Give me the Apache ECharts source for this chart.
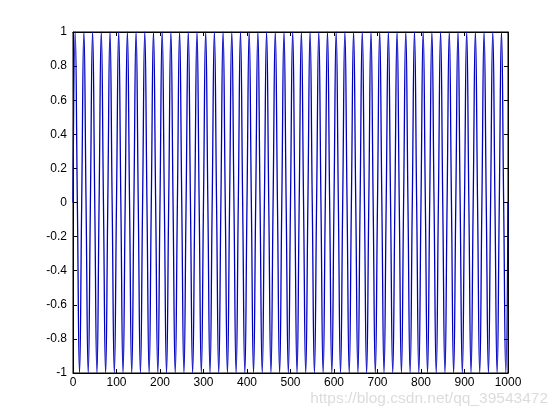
<!DOCTYPE html>
<html>
<head>
<meta charset="utf-8">
<script src="https://cdn.jsdelivr.net/npm/echarts@6/dist/echarts.min.js"></script>
<style>
html,body{margin:0;padding:0;background:#fff;}
#chart{width:560px;height:420px;}
</style>
</head>
<body>
<div id="chart"></div>
<script>
// sample positions (peaks, troughs and zero crossings)
var xs = [
0,5,10,15,20,25,30,35,40,45,50,55,60,65,70,75,80,85,90,95,
100,105,110,115,120,125,130,135,140,145,150,155,160,165,170,175,180,185,190,195,
200,205,210,215,220,225,230,235,240,245,250,255,260,265,270,275,280,285,290,295,
300,305,310,315,320,325,330,335,340,345,350,355,360,365,370,375,380,385,390,395,
400,405,410,415,420,425,430,435,440,445,450,455,460,465,470,475,480,485,490,495,
500,505,510,515,520,525,530,535,540,545,550,555,560,565,570,575,580,585,590,595,
600,605,610,615,620,625,630,635,640,645,650,655,660,665,670,675,680,685,690,695,
700,705,710,715,720,725,730,735,740,745,750,755,760,765,770,775,780,785,790,795,
800,805,810,815,820,825,830,835,840,845,850,855,860,865,870,875,880,885,890,895,
900,905,910,915,920,925,930,935,940,945,950,955,960,965,970,975,980,985,990,995,
1000
];
var ys = [
0,1,0,-1,0,1,0,-1,0,1,0,-1,0,1,0,-1,0,1,0,-1,
0,1,0,-1,0,1,0,-1,0,1,0,-1,0,1,0,-1,0,1,0,-1,
0,1,0,-1,0,1,0,-1,0,1,0,-1,0,1,0,-1,0,1,0,-1,
0,1,0,-1,0,1,0,-1,0,1,0,-1,0,1,0,-1,0,1,0,-1,
0,1,0,-1,0,1,0,-1,0,1,0,-1,0,1,0,-1,0,1,0,-1,
0,1,0,-1,0,1,0,-1,0,1,0,-1,0,1,0,-1,0,1,0,-1,
0,1,0,-1,0,1,0,-1,0,1,0,-1,0,1,0,-1,0,1,0,-1,
0,1,0,-1,0,1,0,-1,0,1,0,-1,0,1,0,-1,0,1,0,-1,
0,1,0,-1,0,1,0,-1,0,1,0,-1,0,1,0,-1,0,1,0,-1,
0,1,0,-1,0,1,0,-1,0,1,0,-1,0,1,0,-1,0,1,0,-1,
0
];
var xTicks = [0,100,200,300,400,500,600,700,800,900,1000];
var yTicks = [-1,-0.8,-0.6,-0.4,-0.2,0,0.2,0.4,0.6,0.8,1];
var watermark = 'https://blog.csdn.net/qq_39543472';

var pairs = xs.map(function(x,i){return [x, ys[i]];});
var font = {color:'#000', fontSize:12, fontFamily:'Liberation Sans, Arial, sans-serif'};
var tick = {show:true, inside:true, length:4, lineStyle:{color:'#000',width:1}};

var chart = echarts.init(document.getElementById('chart'), null, {renderer:'canvas'});
chart.setOption({
  animation:false,
  backgroundColor:'#fff',
  grid:{left:73, right:52, top:32, bottom:47, show:true, borderColor:'#000', borderWidth:1, backgroundColor:'transparent'},
  xAxis:[{
    type:'value', min:xTicks[0], max:xTicks[xTicks.length-1], interval:100, position:'bottom',
    axisLine:{show:true, onZero:false, lineStyle:{color:'#000'}},
    axisTick:tick, splitLine:{show:false},
    axisLabel:Object.assign({margin:4, formatter:function(v){return String(v);}}, font)
  },{
    type:'value', min:xTicks[0], max:xTicks[xTicks.length-1], interval:100, position:'top',
    axisLine:{show:true, onZero:false, lineStyle:{color:'#000'}},
    axisTick:tick, splitLine:{show:false}, axisLabel:{show:false}
  }],
  yAxis:[{
    type:'value', min:yTicks[0], max:yTicks[yTicks.length-1], interval:0.2, position:'left',
    axisLine:{show:true, onZero:false, lineStyle:{color:'#000'}},
    axisTick:tick, splitLine:{show:false},
    axisLabel:Object.assign({margin:6, formatter:function(v){return String(Math.round(v*10)/10);}}, font)
  },{
    type:'value', min:yTicks[0], max:yTicks[yTicks.length-1], interval:0.2, position:'right',
    axisLine:{show:true, onZero:false, lineStyle:{color:'#000'}},
    axisTick:tick, splitLine:{show:false}, axisLabel:{show:false}
  }],
  series:[{
    type:'line', xAxisIndex:0, yAxisIndex:0, data:pairs,
    showSymbol:false, smooth:0.5,
    lineStyle:{color:'#0000c0', width:1.3},
    clip:true
  }],
  graphic:[{
    type:'text', right:12, top:391,
    style:{text:watermark, fill:'#dcdcdc', font:'15.5px "Liberation Sans", Arial, sans-serif'}
  }]
});
</script>
</body>
</html>
